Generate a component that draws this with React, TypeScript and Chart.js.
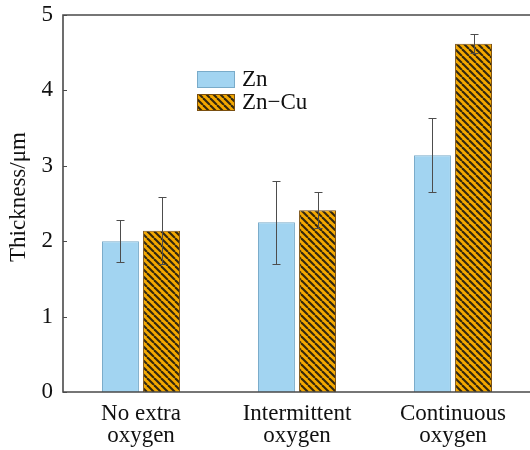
import React, { useEffect, useRef } from "react";
import { Chart, registerables } from "chart.js";

Chart.register(...registerables);

const categories: string[][] = [
  ["No extra", "oxygen"],
  ["Intermittent", "oxygen"],
  ["Continuous", "oxygen"],
];
const seriesNames = ["Zn", "Zn\u2212Cu"];
const znValues = [2.0, 2.25, 3.14];
const znErrors = [0.28, 0.55, 0.49];
const znCuValues = [2.14, 2.41, 4.62];
const znCuErrors = [0.44, 0.24, 0.13];
const yTicks = [0, 1, 2, 3, 4, 5];
const yTitle = "Thickness/\u03bcm";

const FONT = '"Liberation Serif", "Times New Roman", serif';
const FS = 23;
const BLUE = "#a2d4f1";
const BLUE_BORDER = "#79abc9";
const ORANGE = "#f4a800";
const ORANGE_BORDER = "#7a4f10";
const AXIS = "#4a4a4a";

function makeHatch(): CanvasPattern | string {
  const c = document.createElement("canvas");
  const s = 7;
  c.width = s;
  c.height = s;
  const ctx = c.getContext("2d");
  if (!ctx) return ORANGE;
  ctx.fillStyle = ORANGE;
  ctx.fillRect(0, 0, s, s);
  ctx.strokeStyle = "#33270f";
  ctx.lineWidth = 2.1;
  for (const x0 of [-s, 0, s]) {
    ctx.beginPath();
    ctx.moveTo(x0, 0);
    ctx.lineTo(x0 + s, s);
    ctx.stroke();
  }
  const p = ctx.createPattern(c, "repeat");
  return p || ORANGE;
}

export default function App() {
  const ref = useRef<HTMLCanvasElement | null>(null);

  useEffect(() => {
    if (!ref.current) return;
    const hatch = makeHatch();
    const errors = [znErrors, znCuErrors];

    const extras = {
      id: "extras",
      afterDatasetsDraw(chart: any) {
        const ctx = chart.ctx;
        const y = chart.scales.y;
        const area = chart.chartArea;
        ctx.save();
        // error bars
        ctx.strokeStyle = "#4d4d4d";
        ctx.lineWidth = 1;
        chart.data.datasets.forEach((ds: any, di: number) => {
          const meta = chart.getDatasetMeta(di);
          meta.data.forEach((el: any, i: number) => {
            const v = ds.data[i];
            const e = errors[di][i];
            const yt = Math.round(y.getPixelForValue(v + e)) + 0.5;
            const yb = Math.round(y.getPixelForValue(v - e)) + 0.5;
            const x = Math.round(el.x) + 0.5;
            ctx.beginPath();
            ctx.moveTo(x, yt);
            ctx.lineTo(x, yb);
            ctx.moveTo(x - 4, yt);
            ctx.lineTo(x + 4, yt);
            ctx.moveTo(x - 4, yb);
            ctx.lineTo(x + 4, yb);
            ctx.stroke();
          });
        });
        // frame
        ctx.strokeStyle = AXIS;
        ctx.lineWidth = 1.6;
        ctx.beginPath();
        ctx.moveTo(area.right + 5, area.top);
        ctx.lineTo(area.left, area.top);
        ctx.lineTo(area.left, area.bottom);
        ctx.lineTo(area.right + 5, area.bottom);
        ctx.stroke();
        // inward y ticks
        ctx.lineWidth = 1;
        yTicks.forEach((t) => {
          const py = Math.round(y.getPixelForValue(t)) + 0.5;
          ctx.beginPath();
          ctx.moveTo(area.left, py);
          ctx.lineTo(area.left + 4, py);
          ctx.stroke();
        });
        // y title
        ctx.fillStyle = "#111";
        ctx.font = FS + "px " + FONT;
        ctx.textAlign = "center";
        ctx.textBaseline = "middle";
        ctx.save();
        ctx.translate(19, 197);
        ctx.rotate(-Math.PI / 2);
        ctx.fillText(yTitle, 0, 0);
        ctx.restore();
        // legend
        const lx = 197;
        const boxes = [
          { y: 71, fill: BLUE, border: BLUE_BORDER },
          { y: 94, fill: hatch, border: ORANGE_BORDER },
        ];
        boxes.forEach((b, i) => {
          ctx.fillStyle = b.fill;
          ctx.fillRect(lx, b.y, 38, 17);
          ctx.strokeStyle = b.border;
          ctx.lineWidth = 1;
          ctx.strokeRect(lx + 0.5, b.y + 0.5, 37, 16);
          ctx.fillStyle = "#111";
          ctx.textAlign = "left";
          ctx.textBaseline = "middle";
          ctx.font = FS + "px " + FONT;
          ctx.fillText(seriesNames[i], lx + 45, b.y + 9);
        });
        ctx.restore();
      },
    };

    const chart = new Chart(ref.current, {
      type: "bar",
      data: {
        labels: categories as any,
        datasets: [
          {
            label: seriesNames[0],
            data: znValues,
            backgroundColor: BLUE,
            borderColor: BLUE_BORDER,
            borderWidth: 1,
            barPercentage: 0.9,
            categoryPercentage: 0.526,
          },
          {
            label: seriesNames[1],
            data: znCuValues,
            backgroundColor: hatch as any,
            borderColor: ORANGE_BORDER,
            borderWidth: 1,
            barPercentage: 0.9,
            categoryPercentage: 0.526,
          },
        ],
      },
      options: {
        animation: false,
        responsive: false,
        maintainAspectRatio: false,
        layout: { padding: { top: 15, right: 9, left: 0, bottom: 0 } },
        plugins: {
          legend: { display: false },
          tooltip: { enabled: false },
        },
        scales: {
          x: {
            grid: { display: false, drawTicks: false },
            border: { display: false },
            ticks: {
              color: "#111",
              padding: 11,
              maxRotation: 0,
              autoSkip: false,
              font: { family: FONT, size: FS, lineHeight: 0.95 },
            },
            afterFit(scale: any) {
              scale.height = 58;
              scale.paddingLeft = 0;
              scale.paddingRight = 0;
            },
          },
          y: {
            min: 0,
            max: 5,
            grid: { display: false, drawTicks: false },
            border: { display: false },
            afterBuildTicks(scale: any) {
              scale.ticks = yTicks.map((v) => ({ value: v }));
            },
            ticks: {
              color: "#111",
              padding: 10,
              font: { family: FONT, size: FS },
            },
            afterFit(scale: any) {
              scale.width = 63;
              scale.paddingTop = 0;
              scale.paddingBottom = 0;
            },
          },
        },
      },
      plugins: [extras],
    });
    return () => chart.destroy();
  }, []);

  return (
    <div
      style={{
        position: "absolute",
        left: 0,
        top: 0,
        width: 530,
        height: 450,
        overflow: "hidden",
        background: "#fff",
      }}
    >
      <canvas ref={ref} width={540} height={450} style={{ width: 540, height: 450 }} />
    </div>
  );
}
